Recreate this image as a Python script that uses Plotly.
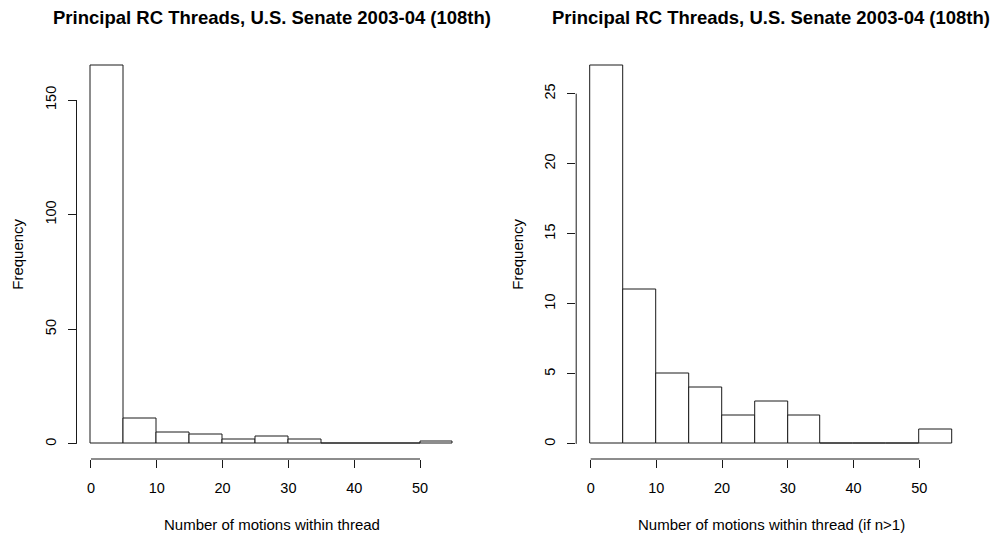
import plotly.graph_objects as go

bin_edges = [0, 5, 10, 15, 20, 25, 30, 35, 40, 45, 50, 55]
counts_all = [165, 11, 5, 4, 2, 3, 2, 0, 0, 0, 1]
counts_multi = [27, 11, 5, 4, 2, 3, 2, 0, 0, 0, 1]
x_ticks = [0, 10, 20, 30, 40, 50]
y_ticks_all = [0, 50, 100, 150]
y_ticks_multi = [0, 5, 10, 15, 20, 25]
title_text = "Principal RC Threads, U.S. Senate 2003-04 (108th)"
xtitle_all = "Number of motions within thread"
xtitle_multi = "Number of motions within thread (if n>1)"
ytitle = "Frequency"

W, H = 999, 538
FONT = "Liberation Sans, Arial, sans-serif"

centers = [(a + b) / 2 for a, b in zip(bin_edges[:-1], bin_edges[1:])]
widths = [b - a for a, b in zip(bin_edges[:-1], bin_edges[1:])]

def rng(lo, hi):
    d = (hi - lo) * 0.04
    return [lo - d, hi + d]

xr = rng(bin_edges[0], bin_edges[-1])
yr1 = rng(0, max(counts_all))
yr2 = rng(0, max(counts_multi))

# plot regions in pixels
L1, R1 = 76.5, 467.4
L2, R2 = 576.2, 966.5
TOP, BOT = 50.5, 459.0
ydom = [(H - BOT) / H, (H - TOP) / H]

fig = go.Figure()
for counts, xa, ya in [(counts_all, "x", "y"), (counts_multi, "x2", "y2")]:
    fig.add_trace(go.Bar(
        x=centers, y=counts, width=widths, xaxis=xa, yaxis=ya,
        marker=dict(color="white", line=dict(color="#1a1a1a", width=1)),
        showlegend=False, hoverinfo="x+y",
    ))

axis_font = dict(family=FONT, size=14.5, color="black")
common_x = dict(range=xr, tickvals=x_ticks, ticks="outside", ticklen=8, tickwidth=1,
                tickcolor="#1a1a1a", showline=False, showgrid=False, zeroline=False,
                tickfont=axis_font, ticklabelstandoff=8)
common_y = dict(ticks="outside", ticklen=8, tickwidth=1, tickcolor="#1a1a1a",
                showline=False, showgrid=False, zeroline=False, tickangle=-90,
                tickfont=axis_font, ticklabelstandoff=6)

fig.update_layout(
    width=W, height=H, margin=dict(l=0, r=0, t=0, b=0),
    paper_bgcolor="white", plot_bgcolor="white", bargap=0,
    xaxis=dict(domain=[L1 / W, R1 / W], anchor="y", **common_x),
    yaxis=dict(domain=ydom, anchor="x", range=yr1, tickvals=y_ticks_all, **common_y),
    xaxis2=dict(domain=[L2 / W, R2 / W], anchor="y2", **common_x),
    yaxis2=dict(domain=ydom, anchor="x2", range=yr2, tickvals=y_ticks_multi, **common_y),
)

shapes = []
for xa, ya, yt in [("x", "y", y_ticks_all), ("x2", "y2", y_ticks_multi)]:
    shapes.append(dict(type="line", xref=xa, yref=ya + " domain", x0=x_ticks[0], x1=x_ticks[-1],
                       y0=0, y1=0, line=dict(color="#1a1a1a", width=1)))
    shapes.append(dict(type="line", xref=xa + " domain", yref=ya, x0=0, x1=0,
                       y0=yt[0], y1=yt[-1], line=dict(color="#1a1a1a", width=1)))
fig.update_layout(shapes=shapes)

ann = []
for (L, R, xt) in [(L1, R1, xtitle_all), (L2, R2, xtitle_multi)]:
    cx = (L + R) / 2 / W
    ann.append(dict(text="<b>" + title_text + "</b>", x=cx, y=(H - 17) / H, xref="paper", yref="paper",
                    showarrow=False, xanchor="center", yanchor="middle",
                    font=dict(family=FONT, size=18.5, color="black")))
    ann.append(dict(text=xt, x=cx, y=(H - 524) / H, xref="paper", yref="paper",
                    showarrow=False, xanchor="center", yanchor="middle",
                    font=dict(family=FONT, size=15, color="black")))
for xpix in [18, 518]:
    ann.append(dict(text=ytitle, x=xpix / W, y=(H - (TOP + BOT) / 2) / H, xref="paper", yref="paper",
                    showarrow=False, xanchor="center", yanchor="middle", textangle=-90,
                    font=dict(family=FONT, size=15, color="black")))
fig.update_layout(annotations=ann)

fig.write_html("out.html")
